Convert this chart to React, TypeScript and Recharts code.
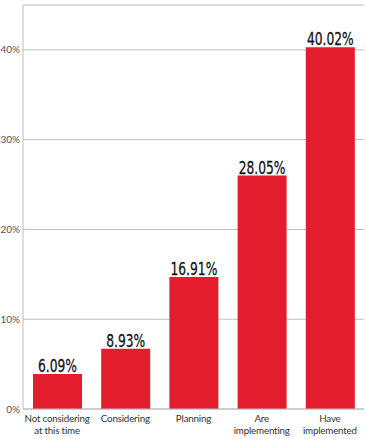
import { BarChart, Bar, XAxis, YAxis, CartesianGrid, LabelList } from 'recharts';

// Categories, bar heights (as drawn) and printed value labels
const CATEGORIES = ['Not considering\nat this time', 'Considering', 'Planning', 'Are\nimplementing', 'Have\nimplemented'];
const BAR_VALUES = [3.9, 6.7, 14.7, 26.0, 40.3];
const VALUE_LABELS = ['6.09%', '8.93%', '16.91%', '28.05%', '40.02%'];
const Y_TICKS = [0, 10, 20, 30, 40];

const RED = '#E31C2E';
const GRID = '#bdbdbd';

const data = CATEGORIES.map((name, i) => ({ name, value: BAR_VALUES[i], label: VALUE_LABELS[i] }));

function CategoryTick({ x, y, payload }: { x?: number; y?: number; payload?: { value: string } }) {
  const lines = String(payload?.value ?? '').split('\n');
  return (
    <text x={x} y={(y ?? 0) + 11} textAnchor="middle" fill="#333" fontSize={9.8} letterSpacing={-0.2} fontFamily="Lato, 'Open Sans', sans-serif">
      {lines.map((l, i) => (
        <tspan key={i} x={x} dy={i === 0 ? 0 : 12}>{l}</tspan>
      ))}
    </text>
  );
}

// condensed headline-style value above each bar
function ValueLabel(props: { x?: number; y?: number; width?: number; index?: number }) {
  const { x = 0, y = 0, width = 0, index = 0 } = props;
  return (
    <g transform={`translate(${x + width / 2}, ${y - 2}) scale(0.78, 1)`}>
      <text x={0} y={0} textAnchor="middle" fill="#111" stroke="#111" strokeWidth={0.25} fontSize={17.5}
        fontFamily="'Liberation Sans Narrow', 'DejaVu Sans Condensed', sans-serif">
        {VALUE_LABELS[index]}
      </text>
    </g>
  );
}

export default function App() {
  return (
    <div style={{ position: 'absolute', left: 0, top: 0, width: 366, height: 439, background: '#fff' }}>
      <BarChart width={366} height={439} data={data} margin={{ top: 5, right: 2, bottom: 0, left: 0 }} barSize={49}>
        <CartesianGrid stroke={GRID} vertical={false} />
        <XAxis dataKey="name" axisLine={{ stroke: GRID }} tickLine={false} tickSize={0} height={30} interval={0} tick={<CategoryTick />} />
        <YAxis domain={[0, 45]} ticks={Y_TICKS} width={23} axisLine={{ stroke: GRID }} tickLine={false} tickSize={0}
          tickFormatter={(v) => `${v}%`} tick={{ fill: '#555', fontSize: 10, fontFamily: 'Lato, sans-serif' }} tickMargin={3} />
        <Bar dataKey="value" fill={RED} isAnimationActive={false}>
          <LabelList dataKey="label" content={<ValueLabel />} />
        </Bar>
      </BarChart>
    </div>
  );
}
